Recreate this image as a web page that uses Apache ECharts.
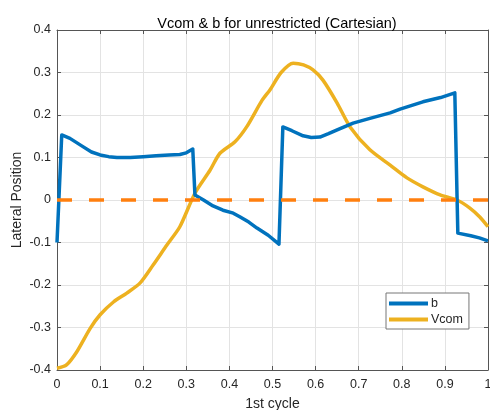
<!DOCTYPE html>
<html>
<head>
<meta charset="utf-8">
<script src="https://cdn.jsdelivr.net/npm/echarts@6/dist/echarts.min.js"></script>
<style>
  html, body { margin: 0; padding: 0; background: #fff; }
  #chart { width: 490px; height: 410px; }
</style>
</head>
<body>
<div id="chart"></div>
<script>
// Lateral position over the first cycle
const bX = [0, 0.011, 0.03, 0.061, 0.08, 0.1, 0.12, 0.139, 0.17, 0.2, 0.23, 0.26, 0.285, 0.3, 0.315, 0.32, 0.34, 0.362, 0.385, 0.409, 0.425, 0.445, 0.464, 0.49, 0.515, 0.524, 0.545, 0.571, 0.59, 0.61, 0.63, 0.65, 0.687, 0.726, 0.773, 0.796, 0.849, 0.89, 0.923, 0.93, 0.96, 0.98, 1.0];
const bY = [-0.1, 0.153, 0.145, 0.125, 0.113, 0.106, 0.102, 0.1, 0.1, 0.102, 0.104, 0.106, 0.107, 0.111, 0.12, 0.012, 0.0, -0.014, -0.024, -0.031, -0.04, -0.052, -0.066, -0.083, -0.104, 0.172, 0.163, 0.151, 0.147, 0.148, 0.156, 0.165, 0.181, 0.192, 0.205, 0.214, 0.231, 0.241, 0.252, -0.078, -0.084, -0.089, -0.096];

const vX = [0, 0.022, 0.046, 0.077, 0.1, 0.131, 0.162, 0.193, 0.223, 0.255, 0.285, 0.32, 0.355, 0.378, 0.413, 0.44, 0.476, 0.494, 0.52, 0.548, 0.572, 0.594, 0.617, 0.65, 0.68, 0.726, 0.773, 0.812, 0.849, 0.889, 0.928, 0.958, 0.981, 1.0];
const vY = [-0.396, -0.388, -0.357, -0.302, -0.27, -0.24, -0.219, -0.195, -0.153, -0.106, -0.063, 0.016, 0.07, 0.11, 0.137, 0.172, 0.235, 0.259, 0.3, 0.322, 0.318, 0.306, 0.282, 0.228, 0.172, 0.118, 0.082, 0.052, 0.031, 0.012, 0.0, -0.019, -0.04, -0.063];

const refX = [0, 1];
const refY = [0, 0];

const seriesNames = ['b', 'Vcom'];

const pair = (xs, ys) => xs.map((x, i) => [x, ys[i]]);

const axisGray = '#555';
const textGray = '#262626';
const font = 'Arial, Liberation Sans';

const chart = echarts.init(document.getElementById('chart'), null, { renderer: 'canvas' });

const boxAxis = (pos) => ({
  position: pos,
  axisLine: { show: true, onZero: false, lineStyle: { color: axisGray, width: 1 } },
  axisTick: { show: true, inside: true, length: 4, lineStyle: { color: axisGray } },
  axisLabel: { show: false },
  splitLine: { show: false }
});

chart.setOption({
  animation: false,
  backgroundColor: '#fff',
  title: {
    text: 'Vcom & b for unrestricted (Cartesian)',
    left: 272, top: 11, textAlign: 'center',
    textStyle: { fontFamily: font, fontSize: 14.5, fontWeight: 'normal', color: '#000' }
  },
  grid: { left: 57, top: 30, right: 2, bottom: 40, outerBoundsMode: 'none', containLabel: false },
  legend: {
    orient: 'vertical',
    left: 386, top: 293,
    data: seriesNames,
    icon: 'rect',
    itemWidth: 39, itemHeight: 4,
    itemGap: 3,
    padding: [4, 6, 3, 3],
    borderColor: '#777', borderWidth: 1, borderRadius: 0,
    backgroundColor: '#fff',
    textStyle: { fontFamily: font, fontSize: 12.5, color: textGray, padding: [0, 0, 0, -2] }
  },
  xAxis: [{
    type: 'value', min: 0, max: 1, interval: 0.1,
    ...boxAxis('bottom'),
    name: '1st cycle', nameLocation: 'middle', nameGap: 27, nameMoveOverlap: false,
    nameTextStyle: { fontFamily: font, fontSize: 14, color: textGray },
    axisLabel: { show: true, fontFamily: font, fontSize: 12.5, color: textGray, margin: 8 },
    splitLine: { show: true, lineStyle: { color: '#e3e3e3', width: 1 } }
  }, {
    type: 'value', min: 0, max: 1, interval: 0.1,
    ...boxAxis('top')
  }],
  yAxis: [{
    type: 'value', min: -0.4, max: 0.4, interval: 0.1,
    ...boxAxis('left'),
    name: 'Lateral Position', nameLocation: 'middle', nameGap: 33, nameMoveOverlap: false,
    nameTextStyle: { fontFamily: font, fontSize: 14, color: textGray },
    axisLabel: { show: true, fontFamily: font, fontSize: 12.5, color: textGray, margin: 6 },
    splitLine: { show: true, lineStyle: { color: '#e3e3e3', width: 1 } }
  }, {
    type: 'value', min: -0.4, max: 0.4, interval: 0.1,
    ...boxAxis('right')
  }],
  series: [{
    name: 'b',
    type: 'line',
    data: pair(bX, bY),
    showSymbol: false,
    smooth: false,
    lineStyle: { color: '#0072BD', width: 3.5, join: 'round' },
    itemStyle: { color: '#0072BD' },
    z: 3
  }, {
    name: 'Vcom',
    type: 'line',
    data: pair(vX, vY),
    showSymbol: false,
    smooth: 0.25,
    lineStyle: { color: '#EDB120', width: 3.5 },
    itemStyle: { color: '#EDB120' },
    z: 2
  }, {
    name: 'zero',
    type: 'line',
    data: pair(refX, refY),
    showSymbol: false,
    lineStyle: { color: '#FF7F0E', width: 3.5, type: [15, 17] },
    z: 4
  }]
});
</script>
</body>
</html>
